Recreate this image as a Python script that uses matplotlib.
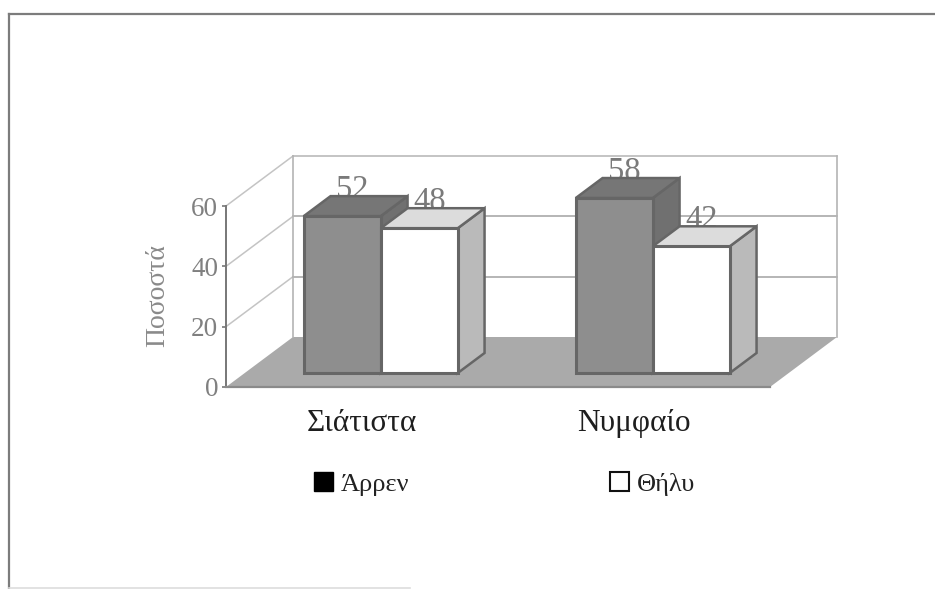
import matplotlib
matplotlib.use("Agg")
import matplotlib.pyplot as plt
from matplotlib.lines import Line2D
from matplotlib.patches import Polygon, Patch

categories = ["Σιάτιστα", "Νυμφαίο"]
male = [52, 58]
female = [48, 42]
series_names = ["Άρρεν", "Θήλυ"]
yticks = [0, 20, 40, 60]
ylabel = "Ποσοστά"

W, H = 935, 589
plt.rcParams["font.family"] = ["Liberation Serif", "DejaVu Serif"]
fig = plt.figure(figsize=(W / 100, H / 100), dpi=100, facecolor="#ffffff")
L, R, T, B = 226, 770, 206, 387
ax = fig.add_axes([L / W, 1 - B / H, (R - L) / W, (B - T) / H])
ax.set_xlim(0, len(categories))
ax.set_ylim(0, 60)
ax.patch.set_alpha(0)

# oblique depth projection: d = 0 front of the box, d = 1 back wall
DX = 67 / 272
DY = 50 / 3.017


def pr(x, y, d):
    return (x + d * DX, y + d * DY)


def poly(pts, fc, ec="none", lw=0.0, z=1):
    ax.add_patch(Polygon(pts, closed=True, facecolor=fc, edgecolor=ec, linewidth=lw,
                         zorder=z, clip_on=False, joinstyle="miter"))


xmax = len(categories)
# floor
poly([pr(0, 0, 0), pr(xmax, 0, 0), pr(xmax, 0, 1), pr(0, 0, 1)], "#aaaaaa", z=1)
# gridlines on the walls
wall = "#b4b4b4"
for v in yticks[1:]:
    ax.plot(*zip(pr(0, v, 0), pr(0, v, 1)), color="#c4c4c4", lw=1.1, zorder=2, clip_on=False)
    c = wall if v == 60 else "#a2a2a2"
    ax.plot(*zip(pr(0, v, 1), pr(xmax, v, 1)), color=c, lw=1.1, zorder=2, clip_on=False)
for x in (0, xmax):
    ax.plot(*zip(pr(x, 0, 1), pr(x, 60, 1)), color=wall, lw=1.2, zorder=2, clip_on=False)

BW = 77 / 272
D0, D1 = 0.28, 0.68
EDGE = "#666666"


def box(xl, v, front, top, side, z):
    xr = xl + BW
    poly([pr(xr, 0, D0), pr(xr, 0, D1), pr(xr, v, D1), pr(xr, v, D0)], side, EDGE, 1.8, z)
    poly([pr(xl, v, D0), pr(xr, v, D0), pr(xr, v, D1), pr(xl, v, D1)], top, EDGE, 1.8, z)
    poly([pr(xl, 0, D0), pr(xr, 0, D0), pr(xr, v, D0), pr(xl, v, D0)], front, EDGE, 2.2, z)


def label(xl, v):
    x = pr(xl + BW / 2, 0, 0.43)[0]
    y = pr(0, v, D1)[1]
    ax.annotate(str(v), (x, y), xytext=(0, -1.5), textcoords="offset points", ha="center",
                va="baseline", fontsize=23.5, color="#7a7a7a", zorder=3, annotation_clip=False)


for i in range(len(categories)):
    c = i + 0.5
    label(c - BW, male[i])
    label(c, female[i])
    box(c - BW, male[i], "#8e8e8e", "#767676", "#707070", 4 + i * 2)
    box(c, female[i], "#ffffff", "#dcdcdc", "#bababa", 5 + i * 2)

# axes furniture
for s in ("top", "right"):
    ax.spines[s].set_visible(False)
ax.spines["left"].set_color("#777777")
ax.spines["left"].set_linewidth(1.4)
ax.spines["bottom"].set_color("#8a8a8a")
ax.spines["bottom"].set_linewidth(1.6)
ax.set_yticks(yticks)
ax.tick_params(axis="y", length=3, width=1.2, color="#777777", labelsize=19.5, labelcolor="#808080", pad=2.5)
ax.set_xticks([i + 0.5 for i in range(len(categories))])
ax.set_xticklabels(categories, fontsize=22.5, color="#1e1e1e")
ax.tick_params(axis="x", length=0, pad=15.5)
fig.text(158 / W, 1 - 296 / H, ylabel, rotation=90, ha="center", va="center", fontsize=20, color="#8a8a8a")

handles = [Patch(facecolor="#000000", edgecolor="#000000"),
           Patch(facecolor="#ffffff", edgecolor="#111111", linewidth=1.5)]
fig.legend(handles, series_names, ncol=2, frameon=False, fontsize=19, labelcolor="#222222",
           loc="center left", bbox_to_anchor=(314 / W, 1 - 484 / H), borderpad=0, borderaxespad=0,
           handlelength=0.72, handleheight=0.7, handletextpad=0.3, columnspacing=7.6)

# page frame of the scanned figure: top and left rules, faint bottom rule, no right rule
for xs, ys, col, lw in [((9, 935), (13.5, 13.5), "#7c7c7c", 1.6),
                        ((9, 9), (13.5, 588), "#7c7c7c", 1.6),
                        ((9, 410), (587.5, 587.5), "#dddddd", 1.2)]:
    fig.add_artist(Line2D([x / W for x in xs], [1 - y / H for y in ys], color=col, linewidth=lw,
                          transform=fig.transFigure))
fig.savefig("out.png", dpi=100, facecolor=fig.get_facecolor())
